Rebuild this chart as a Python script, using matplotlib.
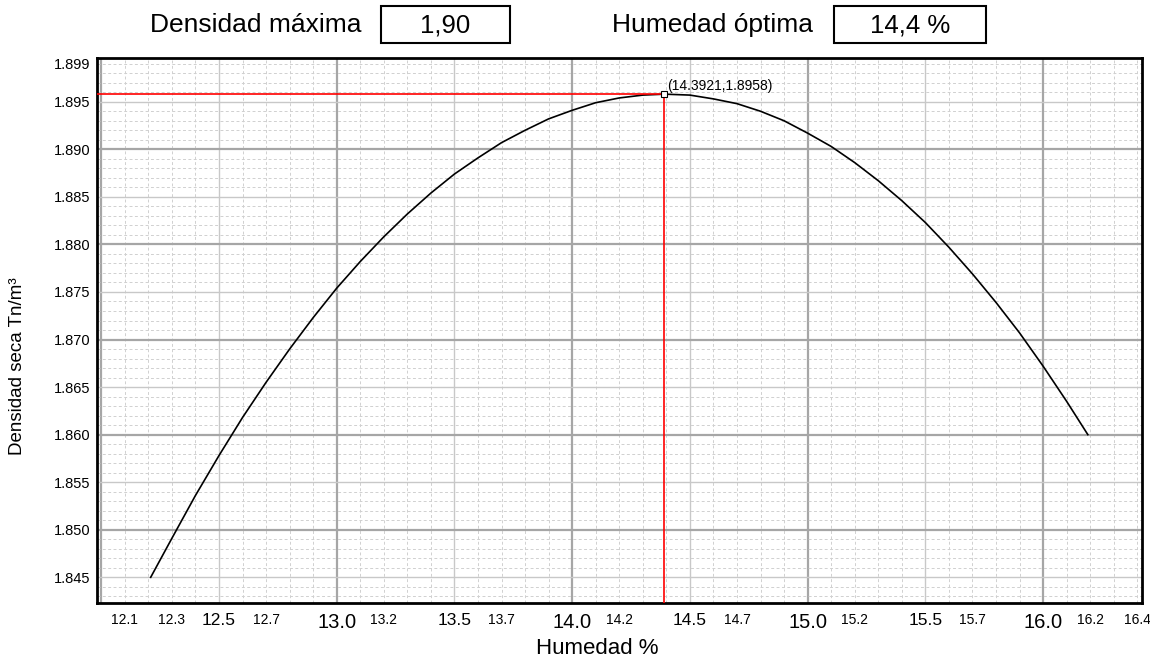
import numpy as np
import matplotlib.pyplot as plt
from matplotlib.patches import Rectangle

plt.rcParams['font.family'] = ['Liberation Sans', 'DejaVu Sans']

# Compaction curve values
curve_x = [12.21, 12.3, 12.4, 12.5, 12.6, 12.7, 12.8, 12.9, 13.0, 13.1, 13.2, 13.3, 13.4,
           13.5, 13.6, 13.7, 13.8, 13.9, 14.0, 14.1, 14.2, 14.3, 14.3921, 14.5, 14.6,
           14.7, 14.8, 14.9, 15.0, 15.1, 15.2, 15.3, 15.4, 15.5, 15.6, 15.7, 15.8, 15.9,
           16.0, 16.1, 16.19]
curve_y = [1.8450, 1.8491, 1.8536, 1.8578, 1.8618, 1.8655, 1.8690, 1.8723, 1.8754, 1.8782,
           1.8808, 1.8832, 1.8854, 1.8874, 1.8891, 1.8907, 1.8920, 1.8932, 1.8941, 1.8949,
           1.8954, 1.8957, 1.8958, 1.8957, 1.8953, 1.8948, 1.8940, 1.8930, 1.8917, 1.8903,
           1.8886, 1.8867, 1.8846, 1.8823, 1.8797, 1.8769, 1.8739, 1.8707, 1.8672, 1.8635,
           1.8600]

peak_x = 14.3921
peak_y = 1.8958

max_density_text = "1,90"
opt_moisture_text = "14,4 %"

x_tick_vals = [12.1, 12.3, 12.5, 12.7, 13.0, 13.2, 13.5, 13.7, 14.0, 14.2,
               14.5, 14.7, 15.0, 15.2, 15.5, 15.7, 16.0, 16.2, 16.4]
x_tick_labels = ['12.1', '12.3', '12.5', '12.7', '13.0', '13.2', '13.5', '13.7', '14.0', '14.2',
                 '14.5', '14.7', '15.0', '15.2', '15.5', '15.7', '16.0', '16.2', '16.4']
y_tick_vals = [1.845, 1.850, 1.855, 1.860, 1.865, 1.870, 1.875, 1.880, 1.885, 1.890, 1.895, 1.899]
y_tick_labels = ['1.845', '1.850', '1.855', '1.860', '1.865', '1.870', '1.875', '1.880',
                 '1.885', '1.890', '1.895', '1.899']

W, H = 1150, 659
fig = plt.figure(figsize=(W / 100, H / 100), dpi=100)
ax = fig.add_axes([97 / W, 1 - 603 / H, (1142 - 97) / W, (603 - 58) / H])
xmin, xmax = 11.982, 16.42
ymin, ymax = 1.8423, 1.8996
ax.set_xlim(xmin, xmax)
ax.set_ylim(ymin, ymax)

# grid: 0.1 / 0.001 dashed minor, 0.5 / 0.005 light, 1.0 / 0.01 darker
for k in range(120, 165):
    v = k / 10
    if k % 10 == 0:
        ax.axvline(v, color='#a6a6a6', lw=1.6, zorder=0)
    elif k % 5 == 0:
        ax.axvline(v, color='#c8c8c8', lw=1.0, zorder=0)
    else:
        ax.axvline(v, color='#d0d0d0', lw=0.7, ls=(0, (3, 2.5)), zorder=0)
for k in range(1843, 1900):
    v = k / 1000
    if k % 10 == 0:
        ax.axhline(v, color='#a6a6a6', lw=1.6, zorder=0)
    elif k % 5 == 0:
        ax.axhline(v, color='#c8c8c8', lw=1.0, zorder=0)
    else:
        ax.axhline(v, color='#d0d0d0', lw=0.7, ls=(0, (3, 2.5)), zorder=0)

# curve and optimum markers
ax.plot(curve_x, curve_y, color='black', lw=1.2, zorder=3)
ax.plot([xmin, peak_x], [peak_y, peak_y], color='red', lw=1.2, zorder=4)
ax.plot([peak_x, peak_x], [ymin, peak_y], color='red', lw=1.2, zorder=4)
ax.plot(peak_x, peak_y, marker='s', ms=5, mfc='white', mec='black', mew=0.8, zorder=5)
ax.annotate(f'({peak_x},{peak_y})', (peak_x, peak_y), xytext=(2, 1),
            textcoords='offset points', fontsize=10, ha='left', va='bottom')

# ticks
ax.set_xticks(x_tick_vals, x_tick_labels)
for v, lab in zip(x_tick_vals, ax.get_xticklabels()):
    if abs(v - round(v)) < 1e-6:
        lab.set_fontsize(14.5)
    elif abs(v * 2 - round(v * 2)) < 1e-6:
        lab.set_fontsize(12.5)
    else:
        lab.set_fontsize(10)
ax.set_yticks(y_tick_vals, y_tick_labels, fontsize=10.5)
ax.tick_params(axis='x', length=0, pad=7)
ax.tick_params(axis='y', length=0, pad=5)
for s in ax.spines.values():
    s.set_linewidth(2)
    s.set_color('black')

# axis titles
fig.text(597 / W, 1 - 649 / H, 'Humedad %', fontsize=16, ha='center', va='center')
fig.text(18 / W, 1 - 366 / H, 'Densidad seca Tn/m³', fontsize=13.5, rotation=90,
         ha='center', va='center')

# header boxes
fig.text(256 / W, 1 - 25 / H, 'Densidad máxima', fontsize=19, ha='center', va='center')
fig.patches.append(Rectangle((381 / W, 1 - 43 / H), 129 / W, 37 / H, transform=fig.transFigure,
                             fill=False, ec='black', lw=1.5))
fig.text(445 / W, 1 - 25 / H, max_density_text, fontsize=18.5, ha='center', va='center')
fig.text(712 / W, 1 - 25 / H, 'Humedad óptima', fontsize=19, ha='center', va='center')
fig.patches.append(Rectangle((834 / W, 1 - 43 / H), 152 / W, 37 / H, transform=fig.transFigure,
                             fill=False, ec='black', lw=1.5))
fig.text(910 / W, 1 - 25 / H, opt_moisture_text, fontsize=18.5, ha='center', va='center')

fig.savefig('out.png', dpi=100)
